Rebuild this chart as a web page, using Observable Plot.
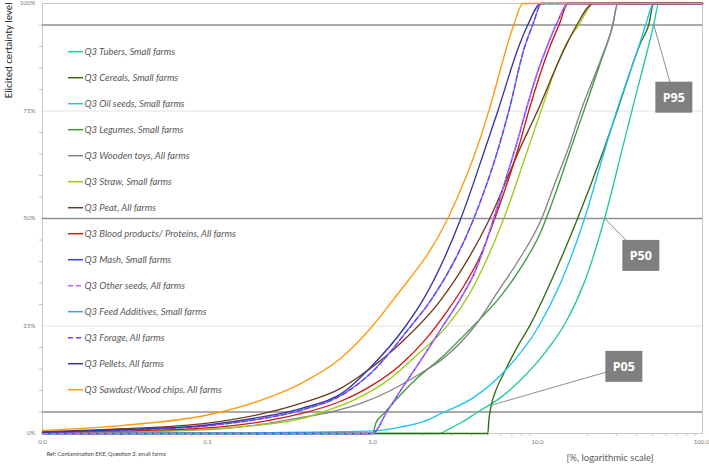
<!DOCTYPE html>
<html><head><meta charset="utf-8">
<script src="https://cdn.jsdelivr.net/npm/d3@7"></script>
<script src="https://cdn.jsdelivr.net/npm/@observablehq/plot@0.6"></script>
<style>
body{margin:0;background:#fff;}
#chart{position:relative;width:709px;height:464px;}
</style>
</head><body><div id="chart"></div>
<script>
// ---- Series (legend order) ----
const seriesNames = [
  "Q3 Tubers, Small farms","Q3 Cereals, Small farms","Q3 Oil seeds, Small farms","Q3 Legumes, Small farms",
  "Q3 Wooden toys, All farms","Q3 Straw, Small farms","Q3 Peat, All farms","Q3 Blood products/ Proteins, All farms",
  "Q3 Mash, Small farms","Q3 Other seeds, All farms","Q3 Feed Additives, Small farms","Q3 Forage, All farms",
  "Q3 Pellets, All farms","Q3 Sawdust/Wood chips, All farms"
];
const seriesColors = ["#22c9a0","#336b12","#1cc3f2","#3d9b3d","#858585","#9bcc1a","#6e3b1e","#d41515",
  "#2f3ff0","#c866ff","#3a9cff","#8a33f0","#35359a","#ff9a0a"];
const seriesDashed = [false,false,false,false,false,false,false,false,false,true,false,true,false,false];

// ---- Values: x = contamination [%], p = elicited certainty level [%] ----
const tubersX = [0.01,2.52,2.90,3.43,4.35,6.0,7.92,11.2,14.9,19.6,25.5,32.9,37.3,50.6,54.3,100];
const tubersP = [0,0,1,2.5,5,8.4,12.5,19,26,36,50,66.7,75,95,100,100];
const cerealsX = [0.01,5.0,5.07,5.21,5.59,6.25,7.39,9.10,12.6,17.5,25.2,29.8,42.3,47.2,50.6,100];
const cerealsP = [0,0,3,6,10,14,19.5,25.5,37,50,66,74,91,95,100,100];
const oilseedsX = [0.01,0.1,0.183,0.367,1.0,1.48,2.11,2.59,4.11,6.25,10.2,13.8,19.3,25.9,30.2,41.1,45.2,50.6,100];
const oilseedsP = [0,0.05,0.1,0.3,0.6,1.5,3,4.6,8.4,14.3,25,35,50,66.7,75,90,95,100,100];
const legumesX = [0.01,1.0,1.05,1.17,1.48,1.88,2.59,3.84,6.0,7.92,10.5,12.9,15.5,18.3,24.2,28.6,30.6,100];
const legumesP = [0,0,2.5,4.6,9,13,17.5,24,32,38.5,47,56,65,73,86.5,95,100,100];
const woodenX = [0.01,0.031,0.1,0.21,0.367,0.558,0.849,1.29,1.96,2.59,4.17,5.75,7.60,10.6,12.7,15.5,18.3,24.2,28.6,30.6,100];
const woodenP = [0.1,0.4,0.9,2.1,3.7,5,7,10,14,17,25,33,40,50,58,66.7,75,87,95,100,100];
const strawX = [0.01,0.031,0.1,0.21,0.367,0.5,0.792,1.20,1.83,2.90,3.94,4.86,6.25,8.85,10.5,12.9,15.1,17.8,21.9,100];
const strawP = [0.15,0.45,1.0,2.0,3.4,5,8,12,18,25.5,33,40,50,66.7,75,85,91,95,100,100];
const peatX = [0.01,0.031,0.1,0.21,0.367,0.642,0.936,1.48,2.59,5.14,7.92,10.0,12.9,14.8,17.3,21.9,100];
const peatP = [0.4,1.1,2.4,4.5,7.0,10.5,14.7,21,31,50,66.7,75,85,90,95,100,100];
const bloodX = [0.01,0.031,0.1,0.21,0.367,0.642,0.976,1.48,2.11,2.78,3.67,4.53,5.51,7.70,8.85,11.9,13.5,15.3,100];
const bloodP = [0.2,0.6,1.3,2.7,4.6,7.5,11,16,22,28,35,41.5,50,66.7,75,90,95,100,100];
const mashX = [0.01,1.0,1.22,1.48,1.96,2.67,3.43,4.11,4.73,5.43,6.34,7.38,8.49,10.0,11.7,13.3,15.3,100];
const mashP = [0,0,5,10,17,25,31.5,37,43,50,58.5,66.7,75,84,91,96,100,100];
const otherseedsX = [0.01,1.0,1.22,1.48,1.96,2.67,3.43,4.11,4.73,5.43,6.34,7.38,8.49,10.0,11.7,13.3,15.3,100];
const otherseedsP = [0,0,5,10,17,25,31.5,37,43,50,58.5,66.7,75,84,91,96,100,100];
const feedX = [0.01,0.031,0.1,0.21,0.367,0.689,0.976,1.71,2.26,4.11,5.83,6.70,8.37,9.35,10.6,100];
const feedP = [0.25,0.8,1.8,3.4,5.4,9.5,14,25,31,50,66.7,75,90,95,100,100];
const forageX = [0.01,0.031,0.1,0.21,0.367,0.689,0.976,1.71,2.26,4.11,5.83,6.70,8.37,9.35,10.6,100];
const forageP = [0.25,0.8,1.8,3.4,5.4,9.5,14,25,31,50,66.7,75,90,95,100,100];
const pelletsX = [0.01,0.031,0.1,0.21,0.367,0.689,0.936,1.59,2.02,3.43,4.86,5.75,7.70,8.73,10.5,100];
const pelletsP = [0.3,0.9,2.0,3.8,5.8,10,14.7,25,31,50,66.7,75,90,95,100,100];
const sawdustX = [0.01,0.031,0.1,0.21,0.367,0.642,1.0,1.33,2.86,4.53,5.07,7.18,8.14,100];
const sawdustP = [0.7,1.9,4.3,7.7,11.6,17.5,25,31,50,69,75,95,100,100];

// ---- Axes ----
const xTicks = [0.01,0.1,1,10,100];
const xTickLabels = ["0.0","0.1","1.0","10.0","100.0"];
const xMinor = [2,3,4,5,6,7,8,9].flatMap(m => [0.01*m,0.1*m,m,10*m]);
const yTicks = [0,25,50,75,100];
const yTickLabels = ["0%","25%","50%","75%","100%"];
const yMinor = [5,10,15,20,30,35,40,45,55,60,65,70,80,85,90,95];
const majorLevels = [5,50,95];
const gridLevels = [25,75];

// ---- Annotations ----
const annLabels = ["P95","P50","P05"];
const annFromX = [50.7,25.6,5.28], annFromP = [95,50,6.6];
const annBoxX = [67.5,42.6,33.6], annBoxP = [78.1,41.3,15.5];

const seriesXs = [tubersX,cerealsX,oilseedsX,legumesX,woodenX,strawX,peatX,bloodX,mashX,otherseedsX,feedX,forageX,pelletsX,sawdustX];
const seriesPs = [tubersP,cerealsP,oilseedsP,legumesP,woodenP,strawP,peatP,bloodP,mashP,otherseedsP,feedP,forageP,pelletsP,sawdustP];

const lineMarks = seriesNames.map((name, i) => {
  const rows = seriesXs[i].map((x, j) => ({x, p: seriesPs[i][j]}));
  return Plot.line(rows, {x: "x", y: "p", stroke: seriesColors[i], strokeWidth: 1.35,
    strokeDasharray: seriesDashed[i] ? "5,3" : null, curve: "monotone-x"});
});
const ann = annLabels.map((t, i) => ({t, x1: annFromX[i], p1: annFromP[i], x2: annBoxX[i], p2: annBoxP[i]}));

const plot = Plot.plot({
  width: 709, height: 464,
  marginLeft: 42, marginRight: 7, marginTop: 3, marginBottom: 31,
  style: {fontFamily: "Lato, 'Open Sans', sans-serif", background: "#fff"},
  x: {type: "log", domain: [0.01, 100], label: null},
  y: {domain: [0, 100], label: null},
  marks: [
    Plot.ruleY(gridLevels, {stroke: "#e2e2e2", strokeWidth: 1}),
    Plot.frame({stroke: "#c6c6c6"}),
    Plot.axisX(xTicks, {tickSize: 0, tickPadding: 6, tickFormat: d => xTickLabels[xTicks.indexOf(d)], fontSize: 6.2, color: "#7a7a7a", label: null}),
    Plot.axisX(xMinor, {tickSize: 3, tickFormat: () => "", color: "#c6c6c6", label: null}),
    Plot.axisY(yTicks, {tickSize: 0, tickPadding: 7, tickFormat: d => yTickLabels[yTicks.indexOf(d)], fontSize: 6.2, color: "#7a7a7a", label: null}),
    Plot.axisY(yMinor, {tickSize: 3, tickFormat: () => "", color: "#c6c6c6", label: null}),
    Plot.ruleY(majorLevels, {stroke: "#8e8e8e", strokeWidth: 1.3}),
    ...lineMarks,
    Plot.link(ann, {x1: "x1", y1: "p1", x2: "x2", y2: "p2", stroke: "#8e8e8e", strokeWidth: 1})
  ]
});
document.getElementById("chart").appendChild(plot);

const svg = d3.select(plot);
const sx = plot.scale("x"), sy = plot.scale("y");

// keep the last x tick label inside the picture
svg.selectAll('[aria-label="x-axis tick label"] text').each(function() {
  if (this.textContent === "100.0") d3.select(this).attr("text-anchor", "end").attr("dx", 7);
});

// annotation boxes
ann.forEach(a => {
  const cx = sx.apply(a.x2), cy = sy.apply(a.p2);
  svg.append("rect").attr("x", cx - 18.5).attr("y", cy - 15.5).attr("width", 37).attr("height", 31).attr("fill", "#7f7f7f");
  svg.append("text").attr("x", cx).attr("y", cy + 4.5).attr("text-anchor", "middle")
    .attr("font-family", "'Open Sans', sans-serif").attr("font-weight", "bold").attr("font-size", 12.5)
    .attr("fill", "#fff").text(a.t);
});

// legend
const lg = svg.append("g").attr("font-family", "Lato, 'Open Sans', sans-serif").attr("text-anchor", "start");
seriesNames.forEach((name, i) => {
  const y = 51.7 + i * 26;
  lg.append("line").attr("x1", 68).attr("x2", 83).attr("y1", y).attr("y2", y)
    .attr("stroke", seriesColors[i]).attr("stroke-width", 1.5)
    .attr("stroke-dasharray", seriesDashed[i] ? "5,3" : null);
  lg.append("text").attr("x", 84.5).attr("y", y + 3.3).attr("font-size", 9.5).attr("font-style", "italic")
    .attr("text-anchor", "start").attr("fill", "#595959").text(name);
});

// titles
svg.append("text").attr("transform", "translate(12,50.5) rotate(-90)").attr("text-anchor", "middle")
  .attr("font-family", "Lato, sans-serif").attr("font-size", 10).attr("fill", "#262626").text("Elicited certainty level");
svg.append("text").attr("x", 610).attr("y", 461).attr("text-anchor", "middle")
  .attr("font-family", "Lato, sans-serif").attr("font-size", 9.5).attr("fill", "#595959").text("[%, logarithmic scale]");
svg.append("text").attr("x", 46.5).attr("y", 455.5).attr("text-anchor", "start")
  .attr("font-family", "Lato, sans-serif").attr("font-size", 5.6).attr("fill", "#404040").text("Ref: Contamination EKE, Question 3, small farms");
</script>
</body></html>
